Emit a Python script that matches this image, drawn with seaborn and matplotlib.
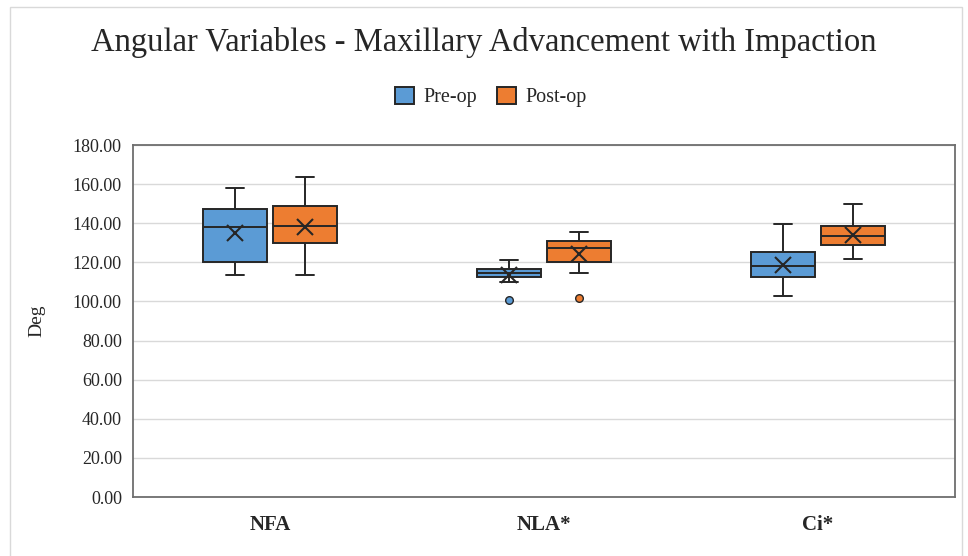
import numpy as np
import pandas as pd
import seaborn as sns
import matplotlib.pyplot as plt
from matplotlib.patches import Rectangle

sns.set_style("white")
plt.rcParams['font.family'] = ['Liberation Serif', 'DejaVu Serif']

# data
categories = ["NFA", "NLA*", "Ci*"]
phases = ["Pre-op", "Post-op"]

pre_min = [113.3, 109.7, 102.9]
pre_q1 = [120.2, 112.3, 112.5]
pre_med = [138.2, 114.3, 118.0]
pre_q3 = [147.1, 116.8, 125.3]
pre_max = [157.9, 121.0, 139.6]

post_min = [113.3, 114.5, 121.8]
post_q1 = [130.0, 120.2, 129.1]
post_med = [138.5, 127.4, 133.7]
post_q3 = [148.8, 130.8, 138.4]
post_max = [163.4, 135.6, 149.7]

pre_mean = [134.8, 113.7, 118.8]
post_mean = [138.3, 124.3, 133.9]

outlier_cat = ["NLA*", "NLA*"]
outlier_phase = ["Pre-op", "Post-op"]
outlier_val = [100.8, 102.0]

colors = {"Pre-op": "#5B9BD5", "Post-op": "#ED7D31"}
dark = "#262626"

# long table for the boxes (five numbers per box)
rows = []
for i, cat in enumerate(categories):
    for v in [pre_min[i], pre_q1[i], pre_med[i], pre_q3[i], pre_max[i]]:
        rows.append((cat, "Pre-op", v))
    for v in [post_min[i], post_q1[i], post_med[i], post_q3[i], post_max[i]]:
        rows.append((cat, "Post-op", v))
df = pd.DataFrame(rows, columns=["variable", "phase", "value"])

means = pd.DataFrame({
    "variable": categories * 2,
    "phase": ["Pre-op"] * 3 + ["Post-op"] * 3,
    "value": pre_mean + post_mean,
})
outliers = pd.DataFrame({"variable": outlier_cat, "phase": outlier_phase, "value": outlier_val})

fig = plt.figure(figsize=(9.68, 5.56), dpi=100)
ax = fig.add_axes([0.1374, 0.1061, 0.8492, 0.6331])

sns.boxplot(data=df, x="variable", y="value", hue="phase", order=categories,
            hue_order=phases, palette=colors, whis=(0, 100), width=0.51, gap=0.09,
            linecolor=dark, linewidth=1.4, showfliers=False, saturation=1,
            capwidths=0.066, ax=ax)

# means as X marks
sns.pointplot(data=means, x="variable", y="value", hue="phase", order=categories,
              hue_order=phases, palette={"Pre-op": dark, "Post-op": dark},
              dodge=0.256, markers="x", linestyles="none", errorbar=None,
              markersize=11, markeredgewidth=1.5, legend=False, ax=ax)

# outliers
sns.pointplot(data=outliers, x="variable", y="value", hue="phase", order=categories,
              hue_order=phases, palette=colors, dodge=0.256, markers="o",
              linestyles="none", errorbar=None, markersize=5.5,
              markeredgecolor=dark, markeredgewidth=1.0, legend=False, ax=ax)

ax.set_ylim(0, 180)
ax.set_xlim(-0.5, 2.5)
ax.set_yticks(np.arange(0, 181, 20))
ax.set_yticklabels([f"{t:.2f}" for t in np.arange(0, 181, 20)], fontsize=13)
ax.set_xticks(range(len(categories)))
ax.set_xticklabels(categories, fontsize=15, fontweight="bold")
ax.tick_params(axis="both", length=0, pad=8)
ax.tick_params(axis="x", pad=13)
ax.yaxis.grid(True, color="#d9d9d9", linewidth=1.0)
ax.set_axisbelow(True)
for s in ax.spines.values():
    s.set_color("#6e6e6e")
    s.set_linewidth(1.3)
ax.set_xlabel("")
ax.set_ylabel("Deg", fontsize=14, labelpad=20)

handles, labels = ax.get_legend_handles_labels()
ax.legend(handles[:2], labels[:2], loc="center", bbox_to_anchor=(491 / 968, 1 - 97 / 556),
          bbox_transform=fig.transFigure, ncol=2, frameon=False, fontsize=14.5,
          handlelength=0.95, handleheight=0.95, handletextpad=0.45, columnspacing=1.0)

fig.text(0.5, 1 - 42 / 556, "Angular Variables - Maxillary Advancement with Impaction",
         ha="center", va="center", fontsize=23.5)

fig.patches.append(Rectangle((10 / 968, -0.01), 952 / 968, 1 - 7 / 556 + 0.01,
                             transform=fig.transFigure, fill=False,
                             edgecolor="#d9d9d9", linewidth=1.0))

fig.savefig("out.png", dpi=100)
